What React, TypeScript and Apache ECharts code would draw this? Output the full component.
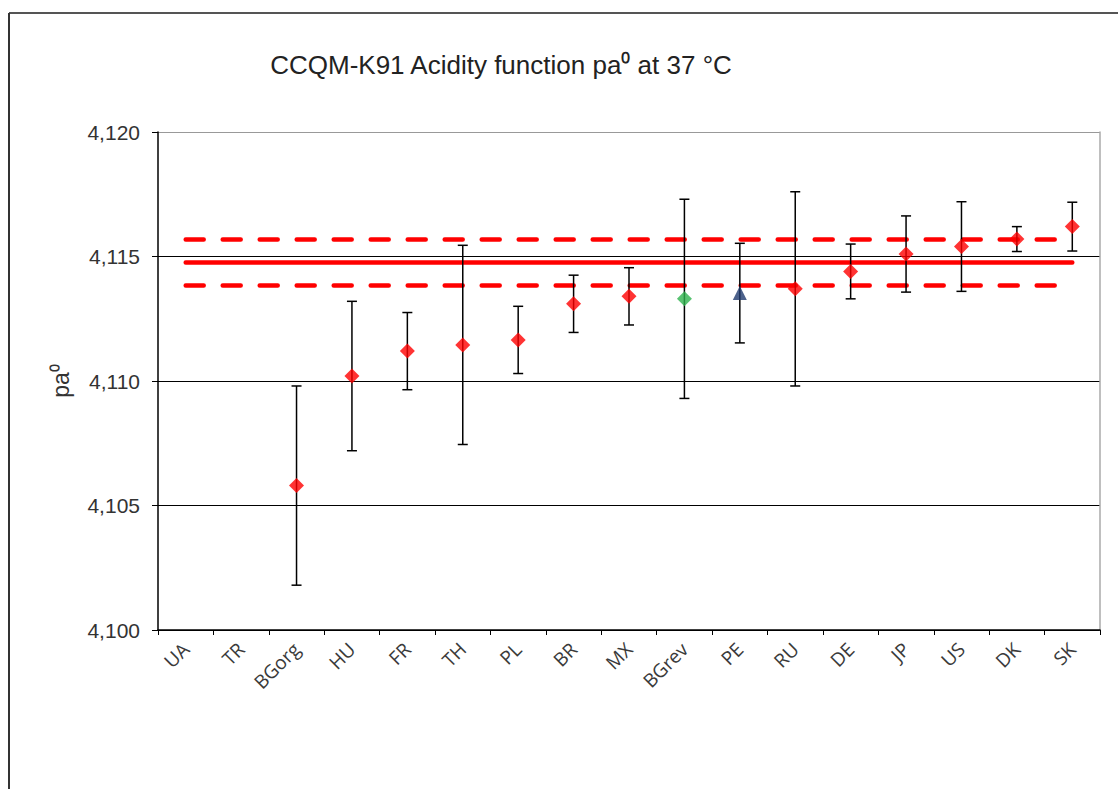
import React, { useEffect, useRef } from "react";
import * as echarts from "echarts";

const categories = ["UA", "TR", "BGorg", "HU", "FR", "TH", "PL", "BR", "MX", "BGrev", "PE", "RU", "DE", "JP", "US", "DK", "SK"];
const values: (number | null)[] = [null, null, 4.1058, 4.1102, 4.1112, 4.11145, 4.11165, 4.1131, 4.1134, 4.1133, 4.11353, 4.1137, 4.1144, 4.1151, 4.1154, 4.1157, 4.1162];
const uncertainties: (number | null)[] = [null, null, 0.004, 0.003, 0.00155, 0.004, 0.00135, 0.00115, 0.00115, 0.004, 0.002, 0.0039, 0.0011, 0.00153, 0.0018, 0.0005, 0.00098];
const refValue = 4.11476;
const refUncertainty = 0.00092;
const yTicks = [4.1, 4.105, 4.11, 4.115, 4.12];

export default function App() {
  const ref = useRef<HTMLDivElement>(null);
  useEffect(() => {
    if (!ref.current) return;
    const chart = echarts.init(ref.current, null, { renderer: "svg" });
    const errData = categories
      .map((c, i) => (values[i] == null ? null : [i, (values[i] as number) - (uncertainties[i] as number), (values[i] as number) + (uncertainties[i] as number)]))
      .filter((d) => d !== null);
    const pointData = categories.map((c, i) => {
      const v = values[i];
      if (v == null) return null;
      if (c === "BGrev") return { value: v, itemStyle: { color: "#2eb34e" } };
      if (c === "PE") return { value: v, symbol: "triangle", symbolSize: 14, itemStyle: { color: "#1f3a6e" } };
      return v;
    });
    chart.setOption({
      animation: false,
      title: {
        text: "CCQM-K91 Acidity function pa\u2070 at 37 \u00b0C",
        left: 496,
        top: 47,
        textAlign: "center",
        textStyle: { fontFamily: "Liberation Sans", fontSize: 26, fontWeight: "normal", color: "#222" },
      },
      graphic: [
        { type: "line", shape: { x1: 9, y1: 13, x2: 1118, y2: 13 }, style: { stroke: "#555", lineWidth: 2 } },
        { type: "line", shape: { x1: 9, y1: 13, x2: 9, y2: 789 }, style: { stroke: "#333", lineWidth: 2 } },
      ],
      grid: { left: 158, right: 18, top: 132, bottom: 159 },
      xAxis: {
        type: "category",
        data: categories,
        boundaryGap: true,
        axisLine: { lineStyle: { color: "#000", width: 1.5 } },
        axisTick: { show: true, length: 5, lineStyle: { color: "#000" } },
        axisLabel: { rotate: 45, fontFamily: "Open Sans", fontSize: 19, color: "#3a3a3a", margin: 16, interval: 0 },
      },
      yAxis: [
        {
          type: "value",
          min: yTicks[0],
          max: yTicks[yTicks.length - 1],
          interval: 0.005,
          name: "pa\u2070",
          nameLocation: "middle",
          nameGap: 86,
          nameTextStyle: { fontFamily: "Liberation Sans", fontSize: 23, color: "#333" },
          axisLine: { show: true, lineStyle: { color: "#000", width: 1.5 } },
          axisTick: { show: true, length: 6, lineStyle: { color: "#000" } },
          axisLabel: {
            fontFamily: "Liberation Sans",
            fontSize: 21,
            color: "#333",
            margin: 18,
            formatter: (v: number) => v.toFixed(3).replace(".", ","),
          },
          splitLine: { show: true, lineStyle: { color: ["#000", "#000", "#000", "#000", "#999"], width: 1.2 } },
        },
        {
          type: "value",
          position: "right",
          min: yTicks[0],
          max: yTicks[yTicks.length - 1],
          interval: 0.005,
          axisLine: { show: true, lineStyle: { color: "#aaa", width: 1.5 } },
          axisTick: { show: false },
          axisLabel: { show: false },
          splitLine: { show: false },
        },
      ],
      series: [
        {
          type: "line",
          data: categories.map(() => refValue),
          symbol: "none",
          lineStyle: { color: "#ff0000", width: 4.5, cap: "round" },
          z: 2,
        },
        {
          type: "line",
          data: categories.map(() => refValue + refUncertainty),
          symbol: "none",
          lineStyle: { color: "#ff0000", width: 4.5, type: [18, 19], cap: "round" },
          z: 2,
        },
        {
          type: "line",
          data: categories.map(() => refValue - refUncertainty),
          symbol: "none",
          lineStyle: { color: "#ff0000", width: 4.5, type: [18, 19], cap: "round" },
          z: 2,
        },
        {
          type: "custom",
          data: errData,
          z: 3,
          renderItem: (params: any, api: any) => {
            const x = api.value(0);
            const lo = api.coord([x, api.value(1)]);
            const hi = api.coord([x, api.value(2)]);
            const w = 5;
            const st = { stroke: "#000", lineWidth: 1.5 };
            return {
              type: "group",
              children: [
                { type: "line", shape: { x1: lo[0], y1: lo[1], x2: hi[0], y2: hi[1] }, style: st },
                { type: "line", shape: { x1: lo[0] - w, y1: lo[1], x2: lo[0] + w, y2: lo[1] }, style: st },
                { type: "line", shape: { x1: hi[0] - w, y1: hi[1], x2: hi[0] + w, y2: hi[1] }, style: st },
              ],
            };
          },
        },
        {
          type: "scatter",
          data: pointData,
          symbol: "diamond",
          symbolSize: 15,
          itemStyle: { color: "#ff0000" },
          z: 4,
        },
      ],
    });
    return () => chart.dispose();
  }, []);
  return <div ref={ref} style={{ position: "fixed", left: 0, top: 0, width: 1118, height: 789, background: "#fff" }} />;
}
